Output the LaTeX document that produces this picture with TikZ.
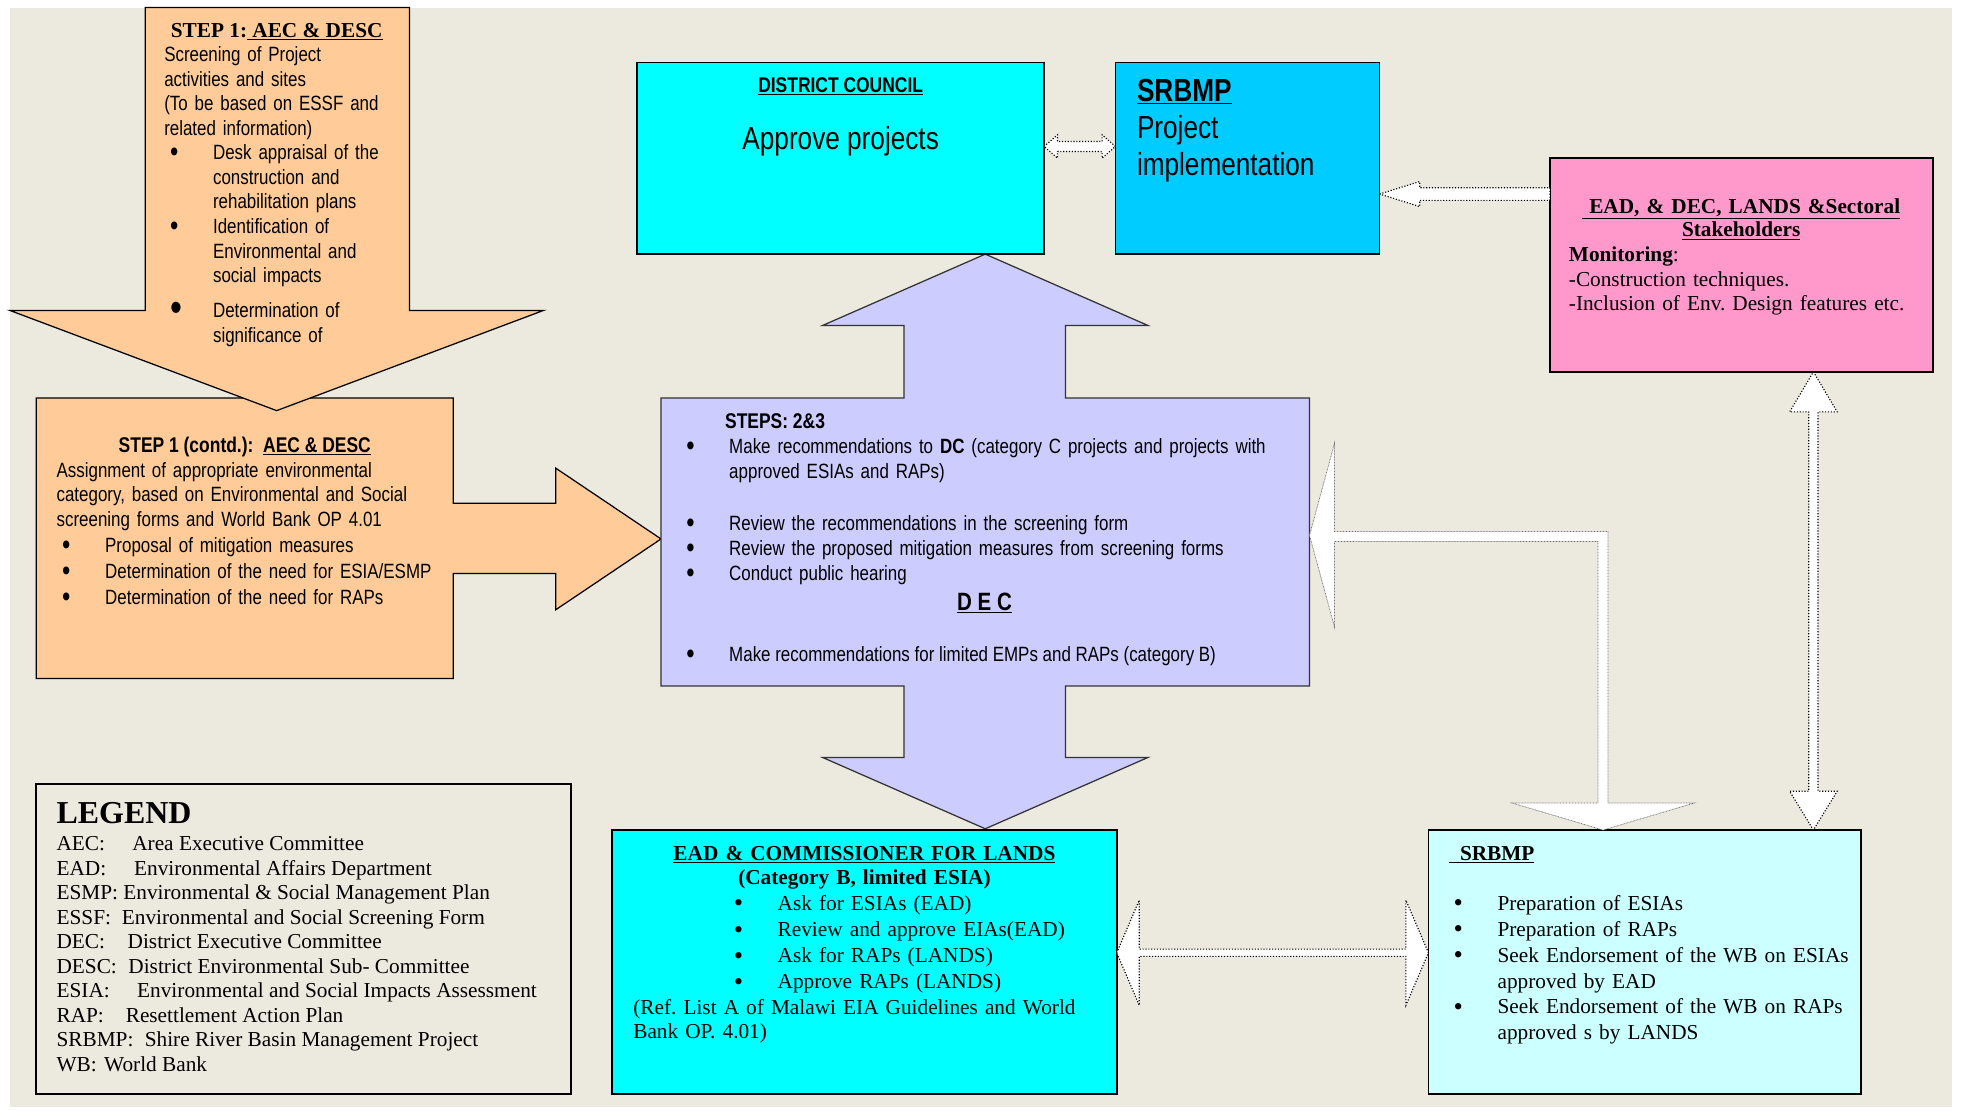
\documentclass[tikz,border=0pt]{standalone}
\usepackage{graphicx}
\usepackage{fontspec}
\setmainfont{Liberation Serif}
\newfontfamily\arialn[FakeStretch=0.82]{Liberation Sans}
\usetikzlibrary{calc}
\frenchspacing

\definecolor{bgc}{RGB}{236,233,223}
\definecolor{orng}{RGB}{255,204,153}
\definecolor{lav}{RGB}{204,204,255}
\definecolor{cyn}{RGB}{0,255,255}
\definecolor{sky}{RGB}{0,204,255}
\definecolor{pnk}{RGB}{255,153,204}
\definecolor{lcyn}{RGB}{204,255,255}

\newcommand\blt[1]{\makebox[#1][l]{\smash{\raisebox{-1.5pt}{\scalebox{1.4}{\textbullet}}}}}
\newcommand\rblt[1]{\makebox[#1][l]{\smash{\raisebox{-1pt}{\scalebox{1.25}{\textbullet}}}}}
\newcommand\bigblt[1]{\makebox[#1][l]{\smash{\raisebox{-3pt}{\scalebox{2}{\textbullet}}}}}
\newcommand\hng[1]{\hspace*{#1}}

\begin{document}
\begin{tikzpicture}[x=1pt,y=-1pt,
  box/.style={draw=black,line width=1.3pt,inner sep=0pt,outer sep=0pt,anchor=north west},
  shp/.style={draw=black!80,line width=1pt},
  dotarr/.style={draw=black,fill=white,line width=0.9pt,dash pattern=on 0.9pt off 1.4pt},
  farr/.style={draw=black!55,fill=white,line width=0.6pt,dash pattern=on 0.6pt off 0.6pt},
  nar/.style={font=\arialn\fontsize{16.5}{19.6}\selectfont,inner sep=0pt},
  narb/.style={font=\arialn\bfseries\fontsize{17}{19.6}\selectfont,inner sep=0pt},
  rom/.style={font=\fontsize{17}{19.6}\selectfont,inner sep=0pt}]
\useasboundingbox (0,0) rectangle (1568,887);
\fill[white] (0,0) rectangle (1568,887);
\fill[bgc] (8,6) rectangle (1559,884);

% step 1 (contd.) with its arrow, then step 1 over it
\draw[shp,draw=black,fill=orng] (29,318) -- (362,318) -- (362,402) -- (444,402) -- (444,374) -- (528,430.5) -- (444,487) -- (444,458) -- (362,458) -- (362,542) -- (29,542) -- cycle;
\draw[shp,draw=black,fill=orng] (116,6) -- (327,6) -- (327,248) -- (434,248) -- (221,328) -- (8,248) -- (116,248) -- cycle;

% DEC with up and down arrows
\draw[shp,fill=lav] (528,318) -- (722,318) -- (722,260) -- (657,260) -- (787,203) -- (917,260) -- (851,260) -- (851,318) -- (1046,318) -- (1046,548) -- (851,548) -- (851,605) -- (917,605) -- (787,662) -- (657,605) -- (722,605) -- (722,548) -- (528,548) -- cycle;
\node[minimum width=518,minimum height=230,inner sep=0pt,outer sep=0pt,anchor=north west] (dec) at (528,318) {};

% boxes
\node[box,fill=cyn,minimum width=325,minimum height=153] (dc) at (509,50) {};
\node[box,fill=sky,minimum width=211,minimum height=153] (srbt) at (891,50) {};
\node[box,fill=pnk,minimum width=306,minimum height=171] (pink) at (1238,126) {};
\node[box,fill=cyn,minimum width=403,minimum height=211] (ead) at (489,663) {};
\node[box,fill=lcyn,minimum width=345.6,minimum height=211] (srbb) at (1141,663) {};
\node[box,minimum width=427,minimum height=248] (lgd) at (29,626) {};

% dotted block arrows
\coordinate (p1) at (dc.east |- 0,117);
\coordinate (p2) at (srbt.west |- 0,117);
\draw[dotarr] (p1) -- ++(10.7,-9.3) -- ++(0,5.3) -- ($(p2)+(-10.7,-4)$) -- ++(0,-5.3) -- (p2) -- ++(-10.7,9.3) -- ++(0,-5.3) -- ($(p1)+(10.7,4)$) -- ++(0,5.3) -- cycle;

\coordinate (q1) at (srbt.east |- 0,155);
\draw[dotarr] (q1) -- ++(32,-10) -- ++(0,5) -- (pink.west |- 0,150) -- (pink.west |- 0,160) -- ($(q1)+(32,5)$) -- ++(0,5) -- cycle;

\coordinate (r1) at (1448.5,0 |- pink.south);
\coordinate (r2) at (1448.5,0 |- srbb.north);
\draw[dotarr] (r1) -- ++(19,32) -- ++(-15.3,0) -- ($(r2)+(3.7,-31)$) -- ++(15.3,0) -- (r2) -- ++(-19,-31) -- ++(15.3,0) -- ($(r1)+(-3.7,32)$) -- ++(-15.3,0) -- cycle;

\coordinate (s1) at (ead.east |- 0,761);
\coordinate (s2) at (srbb.west |- 0,761);
\draw[dotarr] (s1) -- ++(18,-42) -- ++(0,39.1) -- ($(s2)+(-18,-2.9)$) -- ++(0,-39.1) -- (s2) -- ++(-18,42) -- ++(0,-39.1) -- ($(s1)+(18,2.9)$) -- ++(0,39.1) -- cycle;

% white L arrow between DEC and SRBMP
\coordinate (t1) at (dec.east |- 0,427.5);
\coordinate (t2) at (1280.5,0 |- srbb.north);
\draw[farr] (t1) -- (1066,354) -- (1066,424.5) -- (1284.5,424.5) -- (1284.5,641.5) -- (1353,641.5) -- (t2) -- (1208,641.5) -- (1276.5,641.5) -- (1276.5,432.5) -- (1066,432.5) -- (1066,501) -- cycle;

% step 1
\node[rom,anchor=base] (s1t) at (221,30) {\bfseries STEP 1:\underline{\ AEC \& DESC}};
\node[nar,anchor=base west,text width=200,align=left] (s1a) at (131,49.3) {Screening of Project\\activities and sites\\(To be based on ESSF and\\related information)};
\node[nar,anchor=base west,text width=200,align=left] (s1b) at (135.6,127.7) {\blt{34.4pt}Desk appraisal of the\\\hng{34.4pt}construction and\\\hng{34.4pt}rehabilitation plans\\\blt{34.4pt}Identification of\\\hng{34.4pt}Environmental and\\\hng{34.4pt}social impacts\\[8.7pt]\bigblt{34.4pt}Determination of\\\hng{34.4pt}significance of};

% step 1 (contd.)
\node[narb,anchor=base] (s1ct) at (195.5,361.5) {STEP 1 (contd.):\ \ \underline{AEC \& DESC}};
\node[nar,anchor=base west,text width=310,align=left] (s1ca) at (45,381.3) {Assignment of appropriate environmental\\category, based on Environmental and Social\\screening forms and World Bank OP 4.01};
\node[nar,font=\arialn\fontsize{16.5}{20.6}\selectfont,anchor=base west,text width=305,align=left] (s1cb) at (49.5,441.5) {\blt{34.3pt}Proposal of mitigation measures\\\blt{34.3pt}Determination of the need for ESIA/ESMP\\\blt{34.3pt}Determination of the need for RAPs};

% district council
\node[narb,anchor=base] (dct) at (671.5,73.7) {\underline{DISTRICT COUNCIL}};
\node[nar,font=\arialn\fontsize{25.5}{29.3}\selectfont,anchor=base] (dca) at (671.5,119.8) {Approve projects};

% SRBMP implementation
\node[nar,font=\arialn\fontsize{25.5}{29.3}\selectfont,anchor=base west,text width=190,align=left] (srbtt) at (908,81.2) {\textbf{\underline{SRBMP}}\\Project\\implementation};

% monitoring
\node[rom,font=\fontsize{17}{18.8}\selectfont,anchor=base,text width=300,align=center] (pinkt) at (1390.8,170.4) {\bfseries\underline{\ EAD, \& DEC, LANDS \&Sectoral}\\\underline{Stakeholders}};
\node[rom,anchor=base west,text width=285,align=left] (pinkb) at (1253,209) {\textbf{Monitoring}:\\-Construction techniques.\\-Inclusion of Env. Design features etc.};

% DEC
\node[narb,anchor=base west] (dect) at (579,342) {STEPS: 2\&3};
\node[nar,font=\arialn\fontsize{16.5}{20}\selectfont,anchor=base west,text width=490,align=left] (deca) at (548,362.3) {\blt{34.3pt}Make recommendations to \textbf{DC} (category C projects and projects with\\\hng{34.3pt}approved ESIAs and RAPs)\\[21.2pt]\blt{34.3pt}Review the recommendations in the screening form\\\blt{34.3pt}Review the proposed mitigation measures from screening forms\\\blt{34.3pt}Conduct public hearing};
\node[nar,font=\arialn\bfseries\fontsize{20}{24}\selectfont,anchor=base] (decn) at (786.4,487.8) {\underline{D E C}};
\node[nar,anchor=base west] (decb) at (548,528.5) {\blt{34.3pt}Make recommendations for limited EMPs and RAPs (category B)};

% EAD and lands
\node[rom,font=\fontsize{17}{19.5}\selectfont,anchor=base,text width=395,align=center] (eadt) at (690.5,687.4) {\bfseries\underline{EAD \& COMMISSIONER FOR LANDS}\\(Category B, limited ESIA)};
\node[rom,font=\fontsize{17}{20.85}\selectfont,anchor=base west,text width=290,align=left] (eada) at (586,727.4) {\rblt{35pt}Ask for ESIAs (EAD)\\\rblt{35pt}Review and approve EIAs(EAD)\\\rblt{35pt}Ask for RAPs (LANDS)\\\rblt{35pt}Approve RAPs (LANDS)};
\node[rom,font=\fontsize{17}{19.3}\selectfont,anchor=base west,text width=380,align=left] (eadb) at (505.7,810) {(Ref. List A of Malawi EIA Guidelines and World\\Bank OP. 4.01)};

% SRBMP preparation
\node[rom,anchor=base west] (srbbt) at (1157.5,687) {\bfseries\underline{\ \ SRBMP}};
\node[rom,font=\fontsize{17}{20.6}\selectfont,anchor=base west,text width=320,align=left] (srbba) at (1161,727.4) {\rblt{35pt}Preparation of ESIAs\\\rblt{35pt}Preparation of RAPs\\\rblt{35pt}Seek Endorsement of the WB on ESIAs\\\hng{35pt}approved by EAD\\\rblt{35pt}Seek Endorsement of the WB on RAPs\\\hng{35pt}approved s by LANDS};

% legend
\node[rom,font=\fontsize{25.5}{30}\selectfont\bfseries,anchor=base west] (lgdt) at (45,658) {LEGEND};
\foreach \ab/\xx/\full [count=\i] in {AEC:/105.5/Area Executive Committee,
    EAD:/107/Environmental Affairs Department,
    ESMP:/98.4/Environmental \& Social Management Plan,
    ESSF:/97.2/Environmental and Social Screening Form,
    DEC:/101.8/District Executive Committee,
    DESC:/102.4/District Environmental Sub- Committee,
    ESIA:/109.4/Environmental and Social Impacts Assessment,
    RAP:/100.3/Resettlement Action Plan,
    SRBMP:/115.5/Shire River Basin Management Project,
    WB:/83/World Bank} {
  \node[rom,anchor=base west] (lga\i) at (45,{660+19.55*\i}) {\ab};
  \node[rom,anchor=base west] (lgb\i) at (\xx,{660+19.55*\i}) {\full};
}
\end{tikzpicture}
\end{document}
